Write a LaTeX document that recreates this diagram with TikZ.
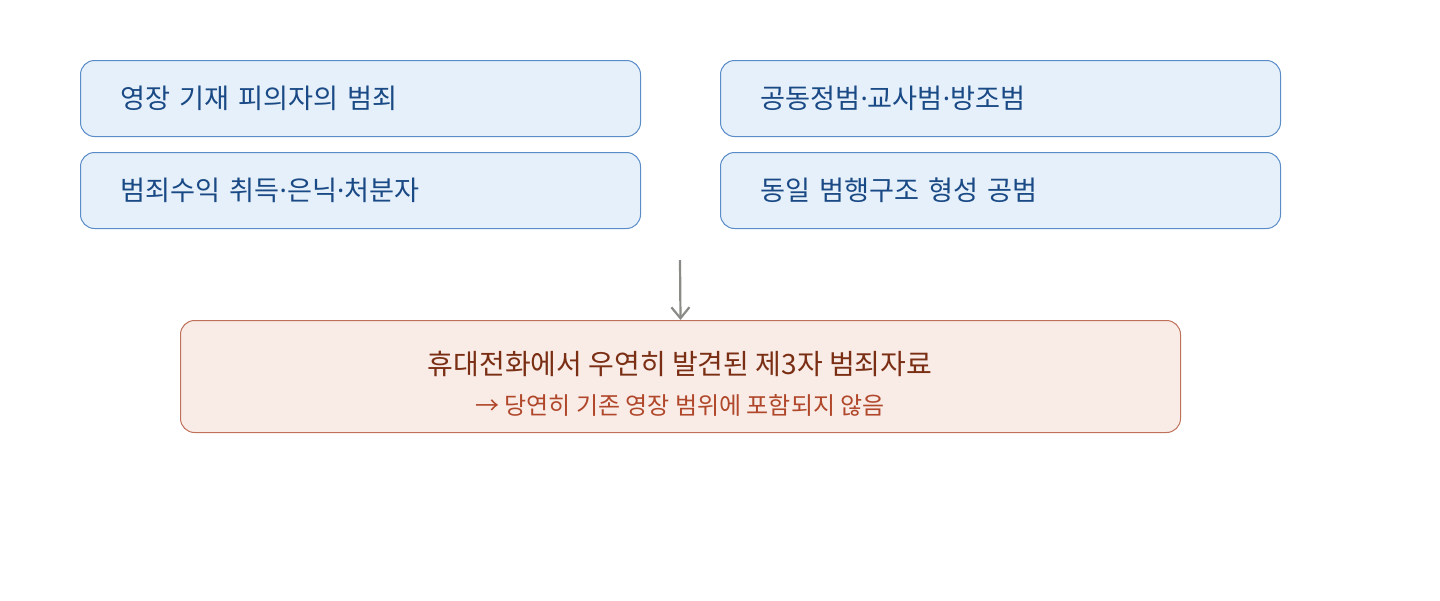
\documentclass[tikz,border=0pt]{standalone}
\usepackage{fontspec}
\setmainfont{Noto Sans CJK KR}
\newfontfamily\latinf{Noto Sans}
\usetikzlibrary{arrows.meta}
\definecolor{bluefill}{HTML}{E6F0FA}
\definecolor{bluedraw}{HTML}{5A8CC8}
\definecolor{bluetext}{HTML}{1A4A85}
\definecolor{redfill}{HTML}{F9EBE6}
\definecolor{reddraw}{HTML}{C0715A}
\definecolor{redtext}{HTML}{7A2E14}
\definecolor{redsub}{HTML}{B0472A}
\definecolor{arrowgray}{HTML}{8A8A86}
\newcommand{\md}{{\latinf ·}}
\begin{document}
\begin{tikzpicture}[x=0.5pt,y=-0.5pt,
  topbox/.style={draw=bluedraw, fill=bluefill, line width=0.5pt, rounded corners=7pt,
    minimum height=38pt, text width=240pt, inner xsep=20pt, inner ysep=0pt,
    align=left, anchor=north west, font=\fontsize{13.6}{15}\selectfont, text=bluetext},
  resbox/.style={draw=reddraw, fill=redfill, line width=0.5pt, rounded corners=7pt,
    minimum width=500pt, minimum height=56pt, inner sep=0pt, anchor=north west},
  mainlbl/.style={font=\fontsize{14}{16}\selectfont, text=redtext, inner sep=0pt},
  sublbl/.style={font=\fontsize{12}{14}\selectfont, text=redsub, inner sep=0pt},
  flow/.style={draw=arrowgray, line width=1.1pt, -{Straight Barb[length=5.5pt,width=9pt]}}
]
\useasboundingbox (0,0) rectangle (1440,600);
\node[topbox] (a) at (80,60) {영장 기재 피의자의 범죄};
\node[topbox] (b) at (80,152) {범죄수익 취득\md 은닉\md 처분자};
\node[topbox] (c) at (720,60) {공동정범\md 교사범\md 방조범};
\node[topbox] (d) at (720,152) {동일 범행구조 형성 공범};
\node[resbox] (e) at (180,320) {};
\node[mainlbl] (e1) at (680,364) {휴대전화에서 우연히 발견된 제3자 범죄자료};
\node[sublbl] (e2) at (680,405) {→ 당연히 기존 영장 범위에 포함되지 않음};
\coordinate (s) at (680,260);
\draw[flow] (s) -- (e.north);
\end{tikzpicture}
\end{document}
